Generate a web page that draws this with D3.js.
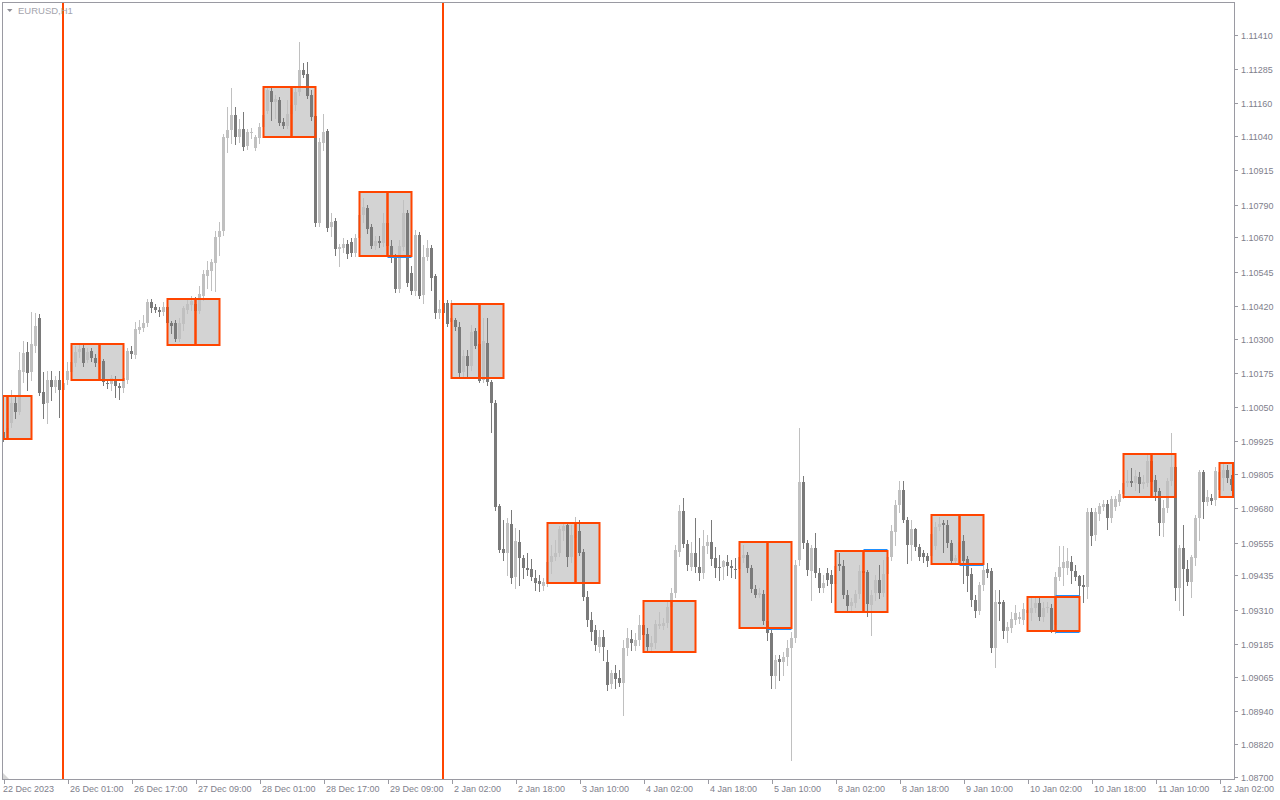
<!DOCTYPE html>
<html><head><meta charset="utf-8">
<script src="https://cdn.jsdelivr.net/npm/d3@7"></script>
<style>
body{margin:0;background:#fff;}
svg{display:block;}
text{font-family:"Liberation Sans",Arial,sans-serif;}
</style>
</head><body>
<svg id="c" width="1280" height="800"></svg>
<script>
const symbolTitle = "EURUSD,H1";

const timeLabels = [[0,"22 Dec 2023"],[16,"26 Dec 01:00"],[32,"26 Dec 17:00"],[48,"27 Dec 09:00"],[64,"28 Dec 01:00"],[80,"28 Dec 17:00"],[96,"29 Dec 09:00"],[112,"2 Jan 02:00"],[128,"2 Jan 18:00"],[144,"3 Jan 10:00"],[160,"4 Jan 02:00"],[176,"4 Jan 18:00"],[192,"5 Jan 10:00"],[208,"8 Jan 02:00"],[224,"8 Jan 18:00"],[240,"9 Jan 10:00"],[256,"10 Jan 02:00"],[272,"10 Jan 18:00"],[288,"11 Jan 10:00"],[304,"12 Jan 02:00"]];

const priceTicks = ["1.11410","1.11285","1.11160","1.11040","1.10915","1.10790","1.10670","1.10545","1.10420","1.10300","1.10175","1.10050","1.09925","1.09805","1.09680","1.09555","1.09435","1.09310","1.09185","1.09065","1.08940","1.08820","1.08700"];

const opens = [
1.09959,1.09955,1.09992,1.10065,1.10032,1.10178,1.10251,1.10178,1.10273,1.10375,
1.10105,1.10065,1.10149,1.10123,1.10149,1.10112,1.10149,1.10178,1.10211,1.10251,
1.10266,1.10222,1.10255,1.10229,1.10207,1.10218,1.10138,1.10134,1.10152,1.10127,
1.10120,1.10149,1.10255,1.10240,1.10331,1.10339,1.10357,1.10434,1.10415,1.10404,
1.10397,1.10415,1.10357,1.10357,1.10299,1.10353,1.10404,1.10423,1.10426,1.10401,
1.10456,1.10529,1.10548,1.10577,1.10672,1.10694,1.11033,1.11062,1.11117,1.11037,
1.11066,1.11004,1.11051,1.10997,1.11033,1.11073,1.11132,1.11205,1.11165,1.11172,
1.11092,1.11077,1.11121,1.11154,1.11201,1.11281,1.11267,1.11190,1.11114,1.10723,
1.11015,1.11059,1.10708,1.10730,1.10628,1.10632,1.10646,1.10654,1.10613,1.10668,
1.10752,1.10778,1.10708,1.10639,1.10657,1.10650,1.10723,1.10639,1.10599,1.10482,
1.10635,1.10760,1.10540,1.10475,1.10679,1.10460,1.10599,1.10632,1.10529,1.10394,
1.10430,1.10430,1.10361,1.10368,1.10342,1.10178,1.10236,1.10200,1.10328,1.10280,
1.10149,1.10284,1.10142,1.10065,1.09689,1.09532,1.09517,1.09623,1.09430,1.09558,
1.09499,1.09463,1.09459,1.09426,1.09415,1.09397,1.09404,1.09485,1.09503,1.09517,
1.09598,1.09620,1.09503,1.09572,1.09598,1.09521,1.09357,1.09273,1.09236,1.09174,
1.09211,1.09120,1.09039,1.09079,1.09061,1.09043,1.09171,1.09204,1.09178,1.09200,
1.09255,1.09222,1.09174,1.09189,1.09251,1.09251,1.09262,1.09320,1.09371,1.09521,
1.09671,1.09550,1.09466,1.09517,1.09466,1.09444,1.09543,1.09558,1.09499,1.09466,
1.09466,1.09485,1.09470,1.09459,1.09459,1.09499,1.09510,1.09463,1.09386,1.09364,
1.09368,1.09269,1.09225,1.09068,1.09131,1.09120,1.09138,1.09171,1.09207,1.09492,
1.09777,1.09554,1.09452,1.09536,1.09444,1.09390,1.09444,1.09437,1.09404,1.09477,
1.09470,1.09364,1.09324,1.09335,1.09368,1.09452,1.09448,1.09328,1.09371,1.09419,
1.09371,1.09441,1.09503,1.09594,1.09693,1.09747,1.09638,1.09547,1.09605,1.09539,
1.09517,1.09506,1.09506,1.09543,1.09612,1.09627,1.09620,1.09554,1.09488,1.09499,
1.09561,1.09496,1.09441,1.09346,1.09306,1.09401,1.09459,1.09452,1.09171,1.09339,
1.09339,1.09233,1.09244,1.09273,1.09277,1.09273,1.09299,1.09299,1.09317,1.09335,
1.09284,1.09317,1.09317,1.09255,1.09430,1.09463,1.09463,1.09485,1.09452,1.09433,
1.09401,1.09393,1.09667,1.09583,1.09660,1.09685,1.09696,1.09645,1.09685,1.09704,
1.09733,1.09773,1.09780,1.09773,1.09795,1.09769,1.09773,1.09853,1.09784,1.09744,
1.09627,1.09682,1.09780,1.09831,1.09390,1.09536,1.09459,1.09412,1.09499,1.09645,
1.09813,1.09704,1.09718,1.09711,1.09747,1.09791,1.09820,1.09787];

const highs = [
1.09974,1.09988,1.10112,1.10090,1.10251,1.10291,1.10288,1.10397,1.10394,1.10390,
1.10178,1.10182,1.10182,1.10163,1.10182,1.10156,1.10215,1.10229,1.10273,1.10277,
1.10277,1.10266,1.10266,1.10244,1.10240,1.10226,1.10149,1.10167,1.10163,1.10138,
1.10171,1.10266,1.10273,1.10361,1.10368,1.10386,1.10445,1.10445,1.10426,1.10415,
1.10434,1.10445,1.10364,1.10368,1.10375,1.10419,1.10449,1.10456,1.10453,1.10493,
1.10551,1.10584,1.10592,1.10694,1.10727,1.11048,1.11146,1.11216,1.11146,1.11103,
1.11128,1.11066,1.11070,1.11044,1.11088,1.11135,1.11216,1.11216,1.11190,1.11183,
1.11106,1.11172,1.11179,1.11216,1.11384,1.11307,1.11311,1.11208,1.11135,1.11033,
1.11121,1.11066,1.10760,1.10741,1.10646,1.10668,1.10661,1.10668,1.10683,1.10789,
1.10814,1.10789,1.10719,1.10676,1.10676,1.10760,1.10807,1.10661,1.10610,1.10661,
1.10807,1.10770,1.10566,1.10697,1.10690,1.10643,1.10661,1.10643,1.10537,1.10441,
1.10449,1.10441,1.10441,1.10375,1.10361,1.10258,1.10258,1.10350,1.10339,1.10368,
1.10375,1.10375,1.10149,1.10076,1.09696,1.09638,1.09645,1.09674,1.09609,1.09601,
1.09510,1.09517,1.09496,1.09455,1.09437,1.09426,1.09510,1.09547,1.09565,1.09616,
1.09627,1.09631,1.09620,1.09649,1.09638,1.09532,1.09379,1.09302,1.09255,1.09236,
1.09236,1.09163,1.09090,1.09109,1.09090,1.09200,1.09244,1.09236,1.09225,1.09291,
1.09291,1.09244,1.09215,1.09273,1.09302,1.09280,1.09339,1.09390,1.09547,1.09693,
1.09718,1.09565,1.09558,1.09645,1.09572,1.09601,1.09583,1.09638,1.09539,1.09510,
1.09492,1.09510,1.09492,1.09499,1.09547,1.09547,1.09521,1.09474,1.09401,1.09390,
1.09382,1.09280,1.09244,1.09145,1.09145,1.09156,1.09200,1.09229,1.09492,1.09974,
1.09798,1.09565,1.09547,1.09590,1.09463,1.09437,1.09463,1.09455,1.09510,1.09517,
1.09492,1.09382,1.09353,1.09382,1.09474,1.09474,1.09455,1.09382,1.09437,1.09474,
1.09492,1.09528,1.09620,1.09711,1.09780,1.09780,1.09649,1.09638,1.09609,1.09550,
1.09528,1.09517,1.09601,1.09631,1.09649,1.09638,1.09638,1.09565,1.09510,1.09572,
1.09583,1.09506,1.09463,1.09364,1.09412,1.09474,1.09481,1.09463,1.09382,1.09382,
1.09346,1.09266,1.09302,1.09328,1.09302,1.09335,1.09335,1.09353,1.09353,1.09353,
1.09339,1.09339,1.09331,1.09448,1.09543,1.09543,1.09536,1.09506,1.09474,1.09437,
1.09437,1.09682,1.09682,1.09682,1.09700,1.09711,1.09711,1.09725,1.09725,1.09747,
1.09784,1.09820,1.09828,1.09820,1.09813,1.09802,1.09875,1.09875,1.09802,1.09755,
1.09711,1.09791,1.09955,1.09839,1.09547,1.09620,1.09492,1.09510,1.09656,1.09820,
1.09820,1.09747,1.09733,1.09831,1.09835,1.09846,1.09839,1.09802];

const lows = [
1.09926,1.09945,1.09977,1.10010,1.10025,1.10142,1.10112,1.10149,1.10251,1.10094,
1.10010,1.09992,1.10076,1.10105,1.10014,1.10094,1.10134,1.10163,1.10200,1.10233,
1.10200,1.10215,1.10218,1.10200,1.10200,1.10131,1.10120,1.10112,1.10087,1.10079,
1.10105,1.10138,1.10229,1.10229,1.10320,1.10328,1.10346,1.10397,1.10397,1.10383,
1.10386,1.10346,1.10320,1.10291,1.10291,1.10331,1.10394,1.10404,1.10375,1.10394,
1.10441,1.10486,1.10478,1.10475,1.10606,1.10679,1.10982,1.11015,1.11011,1.11019,
1.10989,1.10993,1.11033,1.10989,1.11015,1.11062,1.11125,1.11099,1.11106,1.11081,
1.11070,1.11070,1.11055,1.11135,1.11190,1.11256,1.11179,1.11099,1.10712,1.10712,
1.10989,1.10694,1.10676,1.10606,1.10566,1.10617,1.10595,1.10602,1.10602,1.10657,
1.10727,1.10686,1.10632,1.10628,1.10635,1.10639,1.10624,1.10581,1.10471,1.10471,
1.10624,1.10493,1.10464,1.10460,1.10449,1.10430,1.10588,1.10478,1.10375,1.10375,
1.10368,1.10346,1.10350,1.10331,1.10163,1.10156,1.10163,1.10185,1.10266,1.10142,
1.10142,1.10131,1.09959,1.09674,1.09521,1.09492,1.09437,1.09408,1.09390,1.09401,
1.09426,1.09437,1.09419,1.09382,1.09379,1.09382,1.09397,1.09444,1.09492,1.09506,
1.09565,1.09470,1.09485,1.09510,1.09510,1.09346,1.09251,1.09200,1.09163,1.09156,
1.09127,1.09017,1.09025,1.09025,1.09032,1.08926,1.09145,1.09163,1.09163,1.09182,
1.09200,1.09160,1.09160,1.09171,1.09244,1.09240,1.09247,1.09309,1.09357,1.09506,
1.09539,1.09455,1.09455,1.09448,1.09419,1.09426,1.09517,1.09474,1.09430,1.09419,
1.09422,1.09437,1.09430,1.09426,1.09448,1.09485,1.09448,1.09375,1.09357,1.09357,
1.09258,1.09200,1.09025,1.09025,1.09054,1.09072,1.09109,1.08762,1.09193,1.09474,
1.09536,1.09437,1.09346,1.09430,1.09375,1.09375,1.09401,1.09339,1.09393,1.09455,
1.09353,1.09309,1.09309,1.09320,1.09353,1.09433,1.09288,1.09218,1.09346,1.09353,
1.09360,1.09426,1.09492,1.09547,1.09667,1.09631,1.09481,1.09492,1.09528,1.09492,
1.09485,1.09470,1.09492,1.09532,1.09601,1.09521,1.09539,1.09481,1.09481,1.09485,
1.09408,1.09379,1.09324,1.09284,1.09295,1.09382,1.09430,1.09156,1.09101,1.09273,
1.09207,1.09193,1.09229,1.09258,1.09262,1.09258,1.09273,1.09273,1.09302,1.09273,
1.09269,1.09302,1.09229,1.09225,1.09419,1.09401,1.09441,1.09408,1.09419,1.09346,
1.09339,1.09353,1.09547,1.09565,1.09638,1.09674,1.09605,1.09631,1.09674,1.09693,
1.09718,1.09762,1.09762,1.09747,1.09740,1.09755,1.09762,1.09766,1.09711,1.09583,
1.09580,1.09667,1.09766,1.09346,1.09309,1.09291,1.09401,1.09357,1.09474,1.09565,
1.09645,1.09693,1.09696,1.09693,1.09729,1.09747,1.09777,1.09747];

const closes = [
1.09934,1.09974,1.10065,1.10032,1.10185,1.10247,1.10174,1.10280,1.10346,1.10101,
1.10061,1.10149,1.10123,1.10149,1.10112,1.10138,1.10182,1.10215,1.10251,1.10262,
1.10211,1.10251,1.10229,1.10211,1.10222,1.10142,1.10134,1.10156,1.10127,1.10120,
1.10156,1.10255,1.10244,1.10335,1.10342,1.10357,1.10434,1.10412,1.10404,1.10397,
1.10415,1.10357,1.10346,1.10299,1.10357,1.10412,1.10426,1.10437,1.10401,1.10464,
1.10537,1.10551,1.10581,1.10672,1.10694,1.11037,1.11062,1.11117,1.11037,1.11066,
1.11000,1.11055,1.11055,1.11037,1.11073,1.11117,1.11208,1.11165,1.11175,1.11088,
1.11077,1.11121,1.11154,1.11201,1.11281,1.11263,1.11186,1.11110,1.10723,1.11019,
1.11055,1.10705,1.10727,1.10628,1.10635,1.10646,1.10610,1.10613,1.10668,1.10752,
1.10781,1.10701,1.10639,1.10657,1.10650,1.10723,1.10639,1.10595,1.10482,1.10639,
1.10760,1.10504,1.10475,1.10679,1.10456,1.10599,1.10632,1.10522,1.10394,1.10408,
1.10394,1.10353,1.10375,1.10342,1.10174,1.10236,1.10200,1.10324,1.10273,1.10145,
1.10291,1.10142,1.10065,1.09685,1.09528,1.09517,1.09627,1.09426,1.09561,1.09499,
1.09463,1.09455,1.09430,1.09408,1.09404,1.09412,1.09485,1.09506,1.09517,1.09605,
1.09616,1.09503,1.09583,1.09601,1.09517,1.09357,1.09273,1.09229,1.09182,1.09211,
1.09174,1.09036,1.09079,1.09057,1.09043,1.09171,1.09207,1.09189,1.09200,1.09255,
1.09218,1.09174,1.09189,1.09258,1.09258,1.09262,1.09320,1.09371,1.09528,1.09671,
1.09550,1.09474,1.09517,1.09466,1.09444,1.09543,1.09558,1.09496,1.09463,1.09463,
1.09488,1.09470,1.09463,1.09455,1.09503,1.09510,1.09463,1.09386,1.09364,1.09371,
1.09269,1.09225,1.09068,1.09127,1.09120,1.09138,1.09171,1.09207,1.09474,1.09777,
1.09554,1.09455,1.09536,1.09444,1.09390,1.09408,1.09419,1.09404,1.09470,1.09470,
1.09364,1.09324,1.09339,1.09368,1.09452,1.09444,1.09331,1.09364,1.09419,1.09371,
1.09441,1.09503,1.09598,1.09693,1.09747,1.09638,1.09547,1.09605,1.09539,1.09503,
1.09503,1.09488,1.09587,1.09612,1.09623,1.09620,1.09554,1.09488,1.09499,1.09558,
1.09488,1.09433,1.09346,1.09306,1.09401,1.09455,1.09444,1.09171,1.09339,1.09331,
1.09233,1.09247,1.09277,1.09299,1.09284,1.09313,1.09309,1.09317,1.09335,1.09284,
1.09317,1.09320,1.09236,1.09430,1.09466,1.09485,1.09488,1.09452,1.09430,1.09397,
1.09393,1.09667,1.09580,1.09667,1.09689,1.09696,1.09645,1.09714,1.09714,1.09733,
1.09773,1.09780,1.09773,1.09798,1.09769,1.09777,1.09853,1.09777,1.09740,1.09627,
1.09682,1.09780,1.09831,1.09390,1.09536,1.09459,1.09412,1.09503,1.09645,1.09813,
1.09704,1.09722,1.09707,1.09817,1.09813,1.09820,1.09791,1.09766];

// session boxes: bar index where the box starts, splits and ends, with the box range
const boxStart = [-6,17,41,65,89,112,136,160,184,208,232,256,280,304];
const boxMid   = [1,24,48,72,96,119,143,167,191,215,239,263,287,311];
const boxEnd   = [7,30,54,78,102,125,149,173,197,221,245,269,293,317];
const boxHigh  = [1.10090,1.10280,1.10445,1.11219,1.10836,1.10426,1.09625,1.09342,1.09558,1.09526,1.09656,1.09358,1.09879,1.09846];
const boxLow   = [1.09934,1.10149,1.10277,1.11037,1.10602,1.10156,1.09408,1.09156,1.09244,1.09302,1.09477,1.09233,1.09722,1.09722];
// thin blue breakout marks on the right half of some boxes: [box, edge]
const blueMarks = [[4,"low"],[8,"low"],[9,"high"],[10,"low"],[11,"high"],[11,"low"]];
// vertical separator lines (bar index)
const separators = [15,110];

const N = opens.length;
const L = 2, R = 1234, T = 2, B = 779;
const x = d3.scaleLinear().domain([0, 308]).range([2, 1234]);
const y = d3.scaleLinear().domain([1.08700, 1.11410]).range([776.7, 34.8]);
const cx = i => x(i) + 1.5;
const ry = v => Math.round(y(v));

const svg = d3.select("#c");
svg.append("rect").attr("width",1280).attr("height",800).attr("fill","#fff");

const defs = svg.append("defs");
defs.append("clipPath").attr("id","plot").append("rect")
  .attr("x",L+1).attr("y",T+1).attr("width",R-L-1).attr("height",B-T-1);

const plot = svg.append("g").attr("clip-path","url(#plot)");

const ORANGE = "#ff4500";
const clampX = v => Math.max(3, Math.min(1233, v));

const boxes = d3.range(boxStart.length).flatMap(k => [
  {k, a: boxStart[k], b: boxMid[k], side: "L"},
  {k, a: boxMid[k], b: boxEnd[k], side: "R"}
]).map(d => ({...d, x0: clampX(cx(d.a)), x1: clampX(cx(d.b)), y0: ry(boxHigh[d.k]), y1: ry(boxLow[d.k])}))
  .filter(d => d.x1 > d.x0);

// box fills (background)
plot.append("g").selectAll("rect").data(boxes).join("rect")
  .attr("x", d => d.x0).attr("y", d => d.y0)
  .attr("width", d => d.x1 - d.x0).attr("height", d => d.y1 - d.y0)
  .attr("fill", "#d3d3d3");

// candles
const bars = d3.range(N).map(i => ({i, o: opens[i], h: highs[i], l: lows[i], c: closes[i]}));
const BULL = "#c0c0c0", BEAR = "#7a7a7a";
const cg = plot.append("g");
cg.selectAll("rect.w").data(bars).join("rect").attr("class","w")
  .attr("x", d => x(d.i) + 1).attr("width", 1)
  .attr("y", d => ry(d.h)).attr("height", d => Math.max(1, ry(d.l) - ry(d.h) + 1))
  .attr("fill", d => d.c >= d.o ? BULL : BEAR);
cg.selectAll("rect.b").data(bars).join("rect").attr("class","b")
  .attr("x", d => x(d.i)).attr("width", 3)
  .attr("y", d => Math.min(ry(d.o), ry(d.c)))
  .attr("height", d => Math.max(1, Math.abs(ry(d.o) - ry(d.c))))
  .attr("fill", d => d.c >= d.o ? BULL : BEAR);

// box outlines
plot.append("g").selectAll("rect").data(boxes).join("rect")
  .attr("x", d => d.x0).attr("y", d => d.y0)
  .attr("width", d => d.x1 - d.x0).attr("height", d => d.y1 - d.y0)
  .attr("fill", "none").attr("stroke", ORANGE).attr("stroke-width", 2);

// blue marks
plot.append("g").selectAll("line").data(blueMarks).join("line")
  .attr("x1", d => clampX(cx(boxMid[d[0]])))
  .attr("x2", d => clampX(cx(boxEnd[d[0]])))
  .attr("y1", d => d[1] === "low" ? ry(boxLow[d[0]]) + 1.5 : ry(boxHigh[d[0]]) - 1.5)
  .attr("y2", d => d[1] === "low" ? ry(boxLow[d[0]]) + 1.5 : ry(boxHigh[d[0]]) - 1.5)
  .attr("stroke", "#1e90ff").attr("stroke-width", 1);

// vertical separators
plot.append("g").selectAll("rect").data(separators).join("rect")
  .attr("x", d => x(d)).attr("width", 2)
  .attr("y", T).attr("height", B - T)
  .attr("fill", ORANGE);

// frame
const AX = "#9a9aa2";
svg.append("rect").attr("x", L + 0.5).attr("y", T + 0.5)
  .attr("width", R - L).attr("height", B - T)
  .attr("fill", "none").attr("stroke", AX).attr("stroke-width", 1);

// scroll marker
svg.append("path").attr("d", "M3,773 L3,779 L9,779 Z").attr("fill", "#d6d6d6");

// title
svg.append("path").attr("d", "M7,9 L12.5,9 L9.75,12 Z").attr("fill", "#8e8e96");
svg.append("text").attr("x", 18).attr("y", 14).attr("font-size", 9.5)
  .attr("fill", "#a4a4ac").text(symbolTitle);

// price axis
const TXT = "#80808c";
const pa = svg.append("g");
pa.selectAll("line").data(priceTicks).join("line")
  .attr("x1", R).attr("x2", R + 4)
  .attr("y1", d => ry(+d) + 0.5).attr("y2", d => ry(+d) + 0.5)
  .attr("stroke", AX);
pa.selectAll("text").data(priceTicks).join("text")
  .attr("x", R + 7).attr("y", d => ry(+d) + 3.5)
  .attr("font-size", 9).attr("fill", TXT).text(d => d);

// time axis
const ta = svg.append("g");
ta.selectAll("line").data(timeLabels).join("line")
  .attr("x1", d => Math.round(cx(d[0])) + 0.5).attr("x2", d => Math.round(cx(d[0])) + 0.5)
  .attr("y1", B).attr("y2", B + 5).attr("stroke", AX);
ta.selectAll("text").data(timeLabels).join("text")
  .attr("x", d => d[0] === 0 ? 3 : Math.round(cx(d[0])) + 2).attr("y", 792)
  .attr("font-size", 9).attr("fill", TXT).text(d => d[1]);
</script>
</body></html>
